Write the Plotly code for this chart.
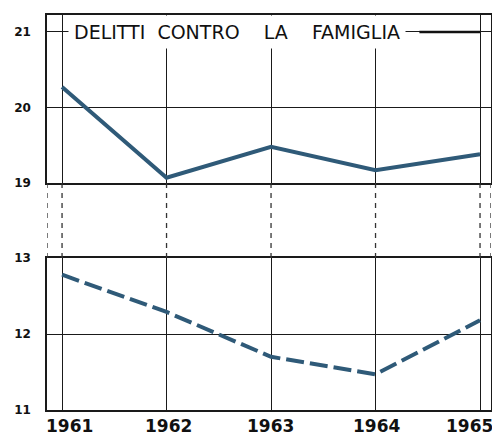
import plotly.graph_objects as go

years = [1961, 1962, 1963, 1964, 1965]
year_labels = ["1961", "1962", "1963", "1964", "1965"]
upper_values = [20.27, 19.07, 19.48, 19.17, 19.38]
lower_values = [12.78, 12.29, 11.70, 11.47, 12.18]
upper_ticks = [19, 20, 21]
lower_ticks = [11, 12, 13]
legend_label = "DELITTI\u00a0 CONTRO\u00a0\u00a0\u00a0 LA\u00a0\u00a0\u00a0 FAMIGLIA"

# horizontal nudges of the year labels (pixels), as printed in the original
label_shift = [7, 2, -1, 1, -11]

LINE = "#2f5a78"
GRID = "#1a1a1a"
TICKFONT = dict(family="DejaVu Sans", size=17, color="#111111", weight="bold")
YTICKFONT = dict(family="DejaVu Sans", size=12, color="#111111", weight="bold")

x_range = [1960.856, 1965.105]
top_dom = [0.5747, 1.0]
bot_dom = [0.0, 0.3848]

fig = go.Figure()
fig.add_trace(go.Scatter(x=years, y=upper_values, xaxis="x", yaxis="y",
                         mode="lines", line=dict(color=LINE, width=4),
                         showlegend=False))
fig.add_trace(go.Scatter(x=years, y=lower_values, xaxis="x2", yaxis="y2",
                         mode="lines", line=dict(color=LINE, width=4, dash="18px,6px"),
                         showlegend=False))

axis_common = dict(showgrid=True, gridcolor=GRID, gridwidth=1.3,
                   showline=True, linecolor=GRID, linewidth=1.5, mirror=True,
                   zeroline=False, ticks="", automargin=False)

# page body has an 8px default margin; the figure is sized to compensate
fig.update_layout(
    width=492, height=429,
    margin=dict(l=39, r=9, t=7, b=27),
    paper_bgcolor="white", plot_bgcolor="white",
    showlegend=False,
    xaxis=dict(domain=[0, 1], anchor="y", range=x_range, tickvals=years,
               showticklabels=False, **axis_common),
    yaxis=dict(domain=top_dom, anchor="x", range=[19, 21.225], tickvals=upper_ticks,
               tickfont=YTICKFONT, ticklabelstandoff=12, **axis_common),
    xaxis2=dict(domain=[0, 1], anchor="y2", range=x_range, tickvals=years,
                showticklabels=False, **axis_common),
    yaxis2=dict(domain=bot_dom, anchor="x2", range=[11, 13], tickvals=lower_ticks,
                tickfont=YTICKFONT, ticklabelstandoff=12, **axis_common),
)

# year labels below the lower panel
for xv, lab, sh in zip(years, year_labels, label_shift):
    fig.add_annotation(xref="x2", yref="paper", x=xv, y=0, xanchor="center", yanchor="top",
                       yshift=-4, xshift=sh, text=lab, showarrow=False, font=TICKFONT)

# dashed verticals across the axis break
for xv in [x_range[0]] + years + [x_range[1]]:
    fig.add_shape(type="line", xref="x", yref="paper", x0=xv, x1=xv,
                  y0=bot_dom[1], y1=top_dom[0],
                  line=dict(color="#333333", width=1.3, dash="5px,5px"))

# legend-like title
fig.add_annotation(xref="x", yref="y", x=1961.06, y=21, xanchor="left", yanchor="middle",
                   text=legend_label, showarrow=False, bgcolor="white", borderpad=5,
                   font=dict(family="DejaVu Sans", size=19, color="#111111"))
fig.add_shape(type="line", xref="x", yref="y", x0=1964.42, x1=1965.0, y0=21, y1=21,
              line=dict(color="#111111", width=2.5))

fig.write_html("out.html")
